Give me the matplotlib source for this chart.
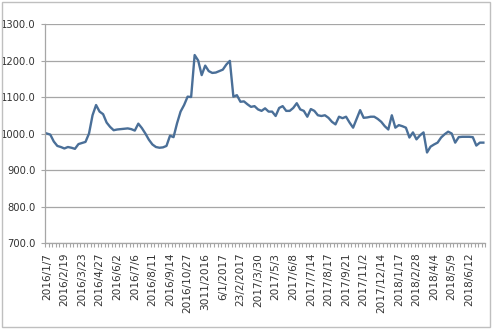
import numpy as np
import matplotlib.pyplot as plt

# weekly price index, Jan 2016 - Jun 2018
values = [
    1000, 997, 978, 966, 963, 959, 963, 961, 958, 971,
    974, 977, 1000, 1050, 1078, 1060, 1053, 1030, 1018, 1009,
    1011, 1012, 1013, 1014, 1012, 1008, 1027, 1015, 1000, 983,
    970, 963, 961, 962, 966, 994, 990, 1028, 1060, 1078,
    1101, 1100, 1215, 1200, 1160, 1186, 1171, 1166, 1167, 1171,
    1175, 1189, 1199, 1101, 1105, 1087, 1088, 1080, 1073, 1075,
    1066, 1062, 1069, 1060, 1060, 1048, 1070, 1075, 1062, 1062,
    1070, 1083, 1066, 1062, 1046, 1067, 1062, 1050, 1048, 1050,
    1043, 1032, 1025, 1046, 1042, 1046, 1030, 1016, 1040, 1064,
    1043, 1044, 1046, 1046, 1040, 1032, 1020, 1011, 1050, 1016,
    1023, 1020, 1016, 989, 1003, 984, 995, 1003, 948, 964,
    970, 975, 989, 998, 1005, 1000, 975, 990, 991, 991,
    991, 990, 967, 975, 975,
]
date_labels = [
    '2016/1/7', '2016/2/19', '2016/3/23', '2016/4/27', '2016/6/2',
    '2016/7/6', '2016/8/11', '2016/9/14', '2016/10/27', '3011/2016',
    '6/1/2017', '23/2/2017', '2017/3/30', '2017/5/3', '2017/6/8',
    '2017/7/14', '2017/8/17', '2017/9/21', '2017/11/2', '2017/12/14',
    '2018/1/17', '2018/2/28', '2018/4/4', '2018/5/9', '2018/6/12',
]
label_step = 5

fig = plt.figure(figsize=(4.99, 3.29), dpi=100)
fig.patches.append(plt.Rectangle((0.004, 0.006), 0.978, 0.988, transform=fig.transFigure,
                                 fill=False, edgecolor='#bfbfbf', linewidth=1.0))
ax = fig.add_axes([0.0902, 0.2614, 0.882, 0.6656])

x = np.arange(len(values))
ax.plot(x, values, color='#4a6f98', linewidth=1.7, solid_joinstyle='round')

ax.set_xlim(-0.5, len(values) - 0.5)
ax.set_ylim(700, 1300)
ax.set_yticks(np.arange(700, 1301, 100))
ax.set_yticklabels([f'{v:.1f}' for v in range(700, 1301, 100)])
ax.grid(axis='y', color='#a6a6a6', linewidth=0.9)
ax.set_axisbelow(True)

ax.set_xticks(x[::label_step])
ax.set_xticklabels(date_labels, rotation=90)
ax.set_xticks(np.arange(-0.5, len(values), 1), minor=True)
ax.tick_params(axis='x', which='major', length=0, pad=7, labelsize=7.6, labelcolor='#333333')
ax.tick_params(axis='x', which='minor', length=3, color='#a6a6a6', width=0.8)
ax.tick_params(axis='y', length=3, color='#a6a6a6', width=0.8, pad=4, labelsize=7.2,
               labelcolor='#333333')

for side in ('top', 'right'):
    ax.spines[side].set_visible(False)
for side in ('left', 'bottom'):
    ax.spines[side].set_color('#a6a6a6')
    ax.spines[side].set_linewidth(0.9)

fig.savefig('out.png', dpi=100)
